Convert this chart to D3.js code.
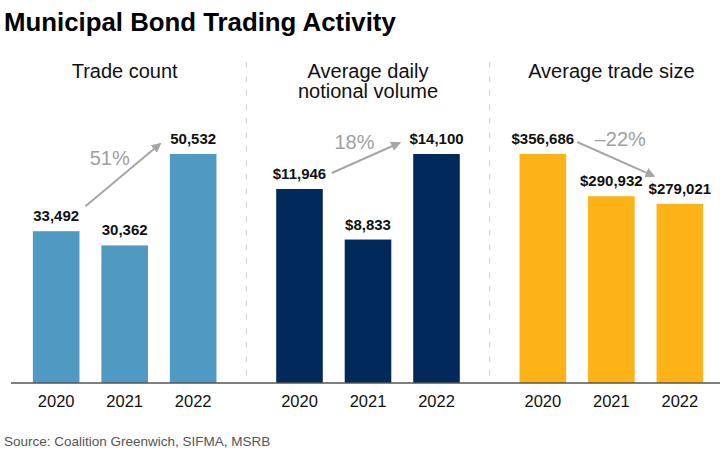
<!DOCTYPE html>
<html>
<head>
<meta charset="utf-8">
<script src="https://cdn.jsdelivr.net/npm/d3@7"></script>
<style>
  body { margin: 0; background: #fff; }
  text { font-family: "Liberation Sans", Arial, sans-serif; }
</style>
</head>
<body>
<div id="chart"></div>
<script>
// data
var years = ['2020', '2021', '2022'];
var panelNames = ['count', 'volume', 'size'];
var panelTitles = [['Trade count'], ['Average daily', 'notional volume'], ['Average trade size']];
var tradeCount = [33492, 30362, 50532];
var notionalVolume = [11946, 8833, 14100];
var tradeSize = [356686, 290932, 279021];
var changes = ['51%', '18%', '\u201322%'];
var valuePrefix = ['', '$', '$'];
var colors = ['#4f9ac2', '#012a5a', '#fdb218'];

var series = [tradeCount, notionalVolume, tradeSize];

// arrow placement, relative to the first / last bars and their labels
var arrowLayout = [
  { sx: 6, sy: -15, ex: -10, ey: 0, tx: -13, ty: -10 },
  { sx: 9, sy: -6, ex: -14, ey: -1, tx: -11, ty: -9 },
  { sx: 11, sy: -2, ex: -3, ey: -18, tx: 5, ty: -13 }
];

var W = 720, H = 460;
var base = 383, barH = 229;

var svg = d3.select('#chart').append('svg')
  .attr('width', W)
  .attr('height', H);

svg.append('defs').append('marker')
  .attr('id', 'arrow')
  .attr('viewBox', '0 0 10 10')
  .attr('refX', 8).attr('refY', 5)
  .attr('markerWidth', 5).attr('markerHeight', 5)
  .attr('orient', 'auto')
  .append('path')
  .attr('d', 'M0,0 L10,5 L0,10 z')
  .attr('fill', '#a6a6a6');

svg.append('text')
  .attr('x', 4).attr('y', 31)
  .attr('font-size', 25.8)
  .attr('font-weight', 'bold')
  .attr('fill', '#000')
  .text('Municipal Bond Trading Activity');

var panelX = d3.scaleBand().domain(panelNames).range([3, 733]);

// dashed separators
panelNames.slice(1).forEach(function(p) {
  svg.append('line')
    .attr('x1', panelX(p)).attr('x2', panelX(p))
    .attr('y1', 62).attr('y2', base)
    .attr('stroke', '#cfcfcf')
    .attr('stroke-width', 1)
    .attr('stroke-dasharray', '6,8');
});

var fmt = d3.format(',');

panelNames.forEach(function(p, pi) {

  var vals = series[pi];
  var cx = panelX(p) + panelX.bandwidth() / 2;

  var x = d3.scaleBand().domain(years)
    .range([panelX(p), panelX(p) + panelX.bandwidth()])
    .paddingInner(0.32).paddingOuter(0.436);

  var y = d3.scaleLinear().domain([0, d3.max(vals)]).range([base, base - barH]);

  var g = svg.append('g');

  var t = g.append('text')
    .attr('text-anchor', 'middle')
    .attr('font-size', 20)
    .attr('fill', '#111');
  panelTitles[pi].forEach(function(line, li) {
    t.append('tspan').attr('x', cx).attr('y', 78 + li * 20).text(line);
  });

  g.selectAll('rect').data(vals).enter()
    .append('rect')
    .attr('x', function(d, i) { return x(years[i]); })
    .attr('y', function(d) { return y(d); })
    .attr('width', x.bandwidth())
    .attr('height', function(d) { return base - y(d); })
    .attr('fill', colors[pi]);

  g.selectAll('text.val').data(vals).enter()
    .append('text')
    .attr('class', 'val')
    .attr('x', function(d, i) { return x(years[i]) + x.bandwidth() / 2; })
    .attr('y', function(d) { return y(d) - 10; })
    .attr('text-anchor', 'middle')
    .attr('font-size', 15)
    .attr('font-weight', 'bold')
    .attr('fill', '#111')
    .text(function(d) { return valuePrefix[pi] + fmt(d); });

  g.selectAll('text.yr').data(years).enter()
    .append('text')
    .attr('class', 'yr')
    .attr('x', function(d) { return x(d) + x.bandwidth() / 2; })
    .attr('y', 407)
    .attr('text-anchor', 'middle')
    .attr('font-size', 16.5)
    .attr('fill', '#111')
    .text(function(d) { return d; });

  // change arrow
  var a = arrowLayout[pi];
  var x1 = x(years[0]) + x.bandwidth() + a.sx;
  var y1 = y(vals[0]) - 10 + a.sy;
  var x2 = x(years[2]) + a.ex;
  var y2 = y(vals[2]) - 10 + a.ey;

  g.append('line')
    .attr('x1', x1).attr('y1', y1)
    .attr('x2', x2).attr('y2', y2)
    .attr('stroke', '#a6a6a6')
    .attr('stroke-width', 2)
    .attr('marker-end', 'url(#arrow)');

  g.append('text')
    .attr('x', (x1 + x2) / 2 + a.tx)
    .attr('y', (y1 + y2) / 2 + a.ty)
    .attr('text-anchor', 'middle')
    .attr('font-size', 20)
    .attr('fill', '#a0a0a0')
    .text(changes[pi]);

});

svg.append('line')
  .attr('x1', 11).attr('x2', W)
  .attr('y1', base).attr('y2', base)
  .attr('stroke', '#555')
  .attr('stroke-width', 1.5);

svg.append('text')
  .attr('x', 4).attr('y', 446)
  .attr('font-size', 13.5)
  .attr('fill', '#555')
  .text('Source: Coalition Greenwich, SIFMA, MSRB');

</script>
</body>
</html>
